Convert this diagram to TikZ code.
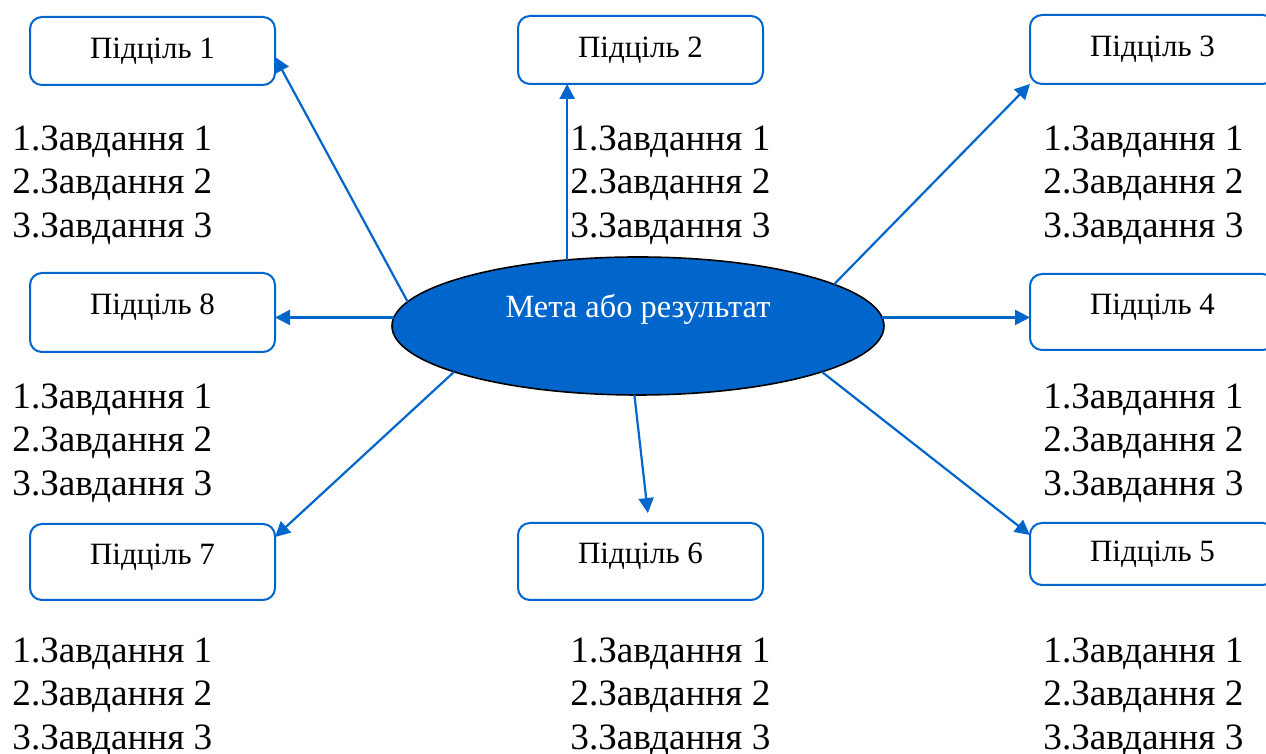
\documentclass[tikz,border=0pt]{standalone}
\usepackage{fontspec}
\setmainfont{Liberation Serif}
\usepackage{tikz}
\usetikzlibrary{arrows.meta,shapes.geometric}
\usepackage{xcolor}
\definecolor{mainblue}{RGB}{0,102,204}

\begin{document}
\begin{tikzpicture}[x=0.5pt, y=0.5pt, every node/.style={font=\fontsize{15.5}{18}\selectfont}]
\tikzset{goalell/.style={draw=black, thick, ellipse, fill=mainblue, minimum width=246pt, minimum height=69pt, inner sep=0pt, outer sep=0pt}}
\tikzset{subgoal/.style={draw=mainblue, line width=1pt, rounded corners=6pt, fill=white, minimum width=122.5pt, minimum height=34pt, inner sep=0pt, outer sep=0pt}}
\tikzset{raised/.style={text depth=8pt}}
\tikzset{tasklist/.style={align=left, anchor=west, inner sep=0pt, font=\fontsize{18.6}{21.75}\selectfont}}
\tikzset{link/.style={draw=mainblue, line width=1.1pt, -{Triangle[length=7.5pt, width=7.5pt]}}}
\useasboundingbox (0,0) rectangle (1266,754);

% Centre: goal
\node[goalell] (goal) at (638,428) {};
\node[white, font=\fontsize{16.2}{19}\selectfont] (goaltxt) at ([yshift=8.5pt]goal.center) {Мета або результат};

% Sub-goals
\node[subgoal] (box1) at (152.5,703) {Підціль 1};
\node[subgoal] (box2) at (640.5,704) {Підціль 2};
\node[subgoal, minimum height=34.5pt] (box3) at (1152.5,704.5) {Підціль 3};
\node[subgoal, raised, minimum height=38pt] (box4) at (1152.5,442) {Підціль 4};
\node[subgoal, minimum height=31pt] (box5) at (1152.5,200) {Підціль 5};
\node[subgoal, raised, minimum height=38.5pt] (box6) at (640.5,192.5) {Підціль 6};
\node[subgoal, raised, minimum height=38pt] (box7) at (152.5,192) {Підціль 7};
\node[subgoal, raised, minimum height=39.5pt] (box8) at (152.5,441.5) {Підціль 8};

% Tasks
\node[tasklist] (tasks1) at (12,569) {1.Завдання 1\\2.Завдання 2\\3.Завдання 3};
\node[tasklist] (tasks2) at (570,569) {1.Завдання 1\\2.Завдання 2\\3.Завдання 3};
\node[tasklist] (tasks3) at (1043,569) {1.Завдання 1\\2.Завдання 2\\3.Завдання 3};
\node[tasklist] (tasks8) at (12,311) {1.Завдання 1\\2.Завдання 2\\3.Завдання 3};
\node[tasklist] (tasks4) at (1043,311) {1.Завдання 1\\2.Завдання 2\\3.Завдання 3};
\node[tasklist] (tasks7) at (12,57) {1.Завдання 1\\2.Завдання 2\\3.Завдання 3};
\node[tasklist] (tasks6) at (570,57) {1.Завдання 1\\2.Завдання 2\\3.Завдання 3};
\node[tasklist] (tasks5) at (1043,57) {1.Завдання 1\\2.Завдання 2\\3.Завдання 3};

% Arrows from the goal
\draw[link] (goal.174) -- ([yshift=-3pt]box1.east);
\draw[link] (goal.137) -- (goal.137 |- box2.south);
\draw[link] (goal.12) -- (box3.south west);
\draw[link] (goal.2) -- (goal.2 -| box4.west);
\draw[link] (goal.346) -- ([yshift=-6pt]box5.north west);
\draw[link, shorten >=5pt] (goal.267) -- ([xshift=4.25pt]box6.north);
\draw[link] (goal.194) -- ([yshift=-6.5pt]box7.north east);
\draw[link] (goal.178) -- (goal.178 -| box8.east);
\end{tikzpicture}
\end{document}
